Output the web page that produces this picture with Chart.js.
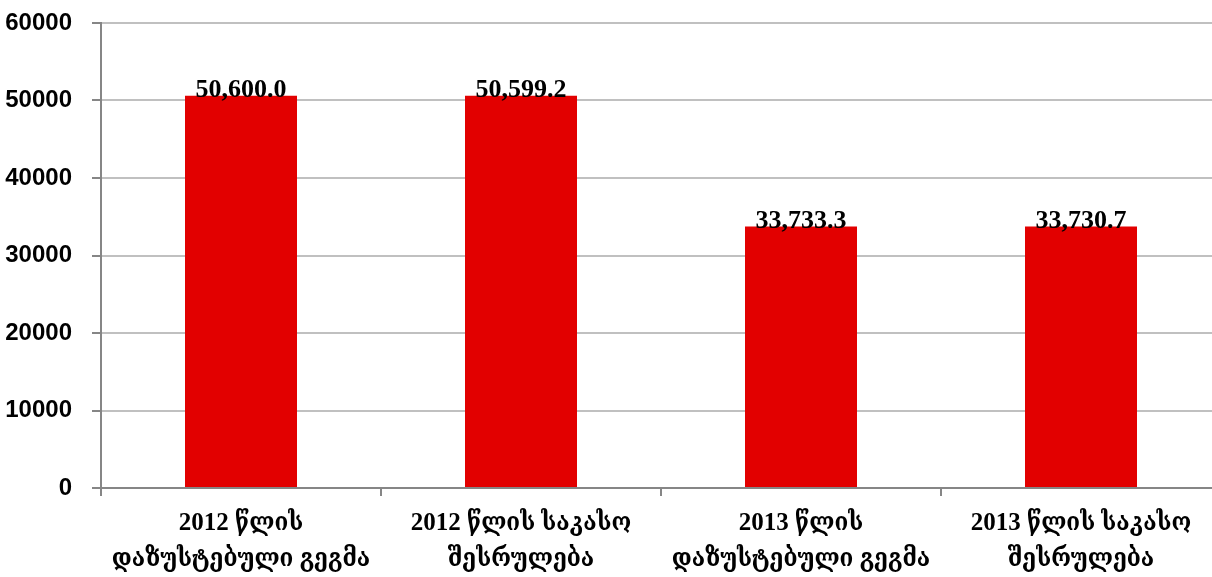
<!DOCTYPE html>
<html>
<head>
<meta charset="utf-8">
<script src="https://cdn.jsdelivr.net/npm/chart.js@4.4.1/dist/chart.umd.min.js"></script>
<style>
  html, body { margin: 0; padding: 0; background: #fff; overflow: hidden; }
  #wrap { width: 1230px; height: 577px; position: relative; }
</style>
</head>
<body>
<div id="wrap"><canvas id="chart"></canvas></div>
<script>
const categories = [
  ['2012 წლის', 'დაზუსტებული გეგმა'],
  ['2012 წლის საკასო', 'შესრულება'],
  ['2013 წლის', 'დაზუსტებული გეგმა'],
  ['2013 წლის საკასო', 'შესრულება']
];
const values = [50600.0, 50599.2, 33733.3, 33730.7];
const valueLabels = ['50,600.0', '50,599.2', '33,733.3', '33,730.7'];
const yTicks = [0, 10000, 20000, 30000, 40000, 50000, 60000];

const serif = '"Liberation Serif", "DejaVu Serif Condensed", "DejaVu Serif", serif';

// draws the value above each bar
const barLabels = {
  id: 'barLabels',
  afterDatasetsDraw(chart) {
    const ctx = chart.ctx;
    const meta = chart.getDatasetMeta(0);
    ctx.save();
    ctx.font = 'bold 26px ' + serif;
    ctx.fillStyle = '#000';
    ctx.textAlign = 'center';
    ctx.textBaseline = 'alphabetic';
    meta.data.forEach((bar, i) => {
      ctx.fillText(valueLabels[i], bar.x, bar.y + 1);
    });
    ctx.restore();
  }
};

new Chart(document.getElementById('chart'), {
  type: 'bar',
  data: {
    labels: categories,
    datasets: [{
      data: values,
      backgroundColor: '#e20000',
      borderWidth: 0,
      categoryPercentage: 1,
      barPercentage: 0.4
    }]
  },
  options: {
    responsive: true,
    maintainAspectRatio: false,
    animation: false,
    layout: { padding: { top: 23, right: 9, left: 0, bottom: 0 } },
    plugins: { legend: { display: false }, tooltip: { enabled: false } },
    scales: {
      x: {
        grid: { drawOnChartArea: false, tickLength: 8, color: '#868686', lineWidth: 2 },
        border: { color: '#868686', width: 2 },
        ticks: { color: '#000', font: { family: serif, size: 25, weight: 'bold', lineHeight: 1.45 }, padding: 9, maxRotation: 0, autoSkip: false },
        afterFit(scale) { scale.height = 89; }
      },
      y: {
        min: 0,
        max: 60000,
        afterBuildTicks(scale) { scale.ticks = yTicks.map(v => ({ value: v })); },
        grid: { color: '#c0c0c0', lineWidth: 2, tickLength: 9, tickColor: '#868686' },
        border: { color: '#868686', width: 2 },
        ticks: {
          color: '#000',
          font: { family: '"Liberation Sans", sans-serif', size: 24, weight: 'bold' },
          padding: 20,
          callback: v => String(v)
        },
        afterFit(scale) {
          scale.width = 101;
          scale.paddingTop = 0;
          scale.paddingBottom = 0;
        }
      }
    }
  },
  plugins: [barLabels]
});
</script>
</body>
</html>
